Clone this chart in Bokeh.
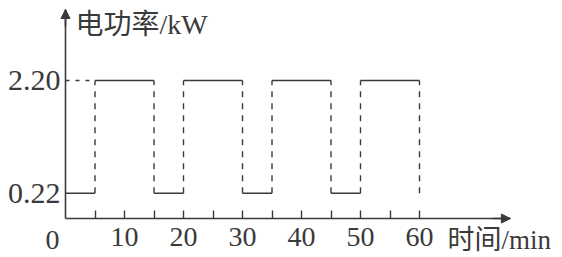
from bokeh.plotting import figure
from bokeh.models import (FixedTicker, PrintfTickFormatter, Range1d, Label, Arrow,
                          NormalHead, ColumnDataSource, LinearAxis)
from bokeh.embed import file_html
from bokeh.resources import INLINE

# ---- data ----
times = [0, 5, 15, 20, 30, 35, 45, 50, 60]          # minute marks where power switches
power = [0.22, 2.20, 0.22, 2.20, 0.22, 2.20, 0.22, 2.20]  # power level on each interval, kW
low, high = 0.22, 2.20
x_ticks_major = [10, 20, 30, 40, 50, 60]
x_ticks_minor = [5, 15, 25, 35, 45, 55]
y_ticks = [0.22, 2.20]
x_title = "时间/min"
y_title = "电功率/kW"

INK = "#3a3a3a"
LATIN = "Liberation Serif"
MIXED = "Liberation Serif, Noto Sans CJK SC"

# axis extents (data units)
x_axis_end = 75.4
y_axis_start, y_axis_end = -0.225, 3.449

p = figure(width=562, height=257, output_backend="svg", toolbar_location=None,
           x_range=Range1d(-11.017, 84.237), y_range=Range1d(-0.910, 3.607),
           x_axis_location=None, y_axis_location=None,
           min_border=0)
p.outline_line_color = None
p.grid.visible = False
p.background_fill_color = "white"
p.border_fill_color = "white"

# solid level segments
seg = ColumnDataSource(dict(x0=times[:-1], x1=times[1:], y=power))
p.segment(x0="x0", y0="y", x1="x1", y1="y", source=seg, line_color=INK, line_width=1.6)

# dashed vertical transitions
vsrc = ColumnDataSource(dict(x=times[1:], y0=[low] * (len(times) - 1),
                             y1=[high] * (len(times) - 1)))
p.segment(x0="x", y0="y0", x1="x", y1="y1", source=vsrc, line_color=INK,
          line_width=1.4, line_dash="6 6")
# dashed reference at 2.20 from the y axis
p.segment(x0=[times[0]], y0=[high], x1=[times[1]], y1=[high], line_color=INK,
          line_width=1.4, line_dash="4 6")

# axes, placed inside the canvas at fixed data locations
xa = LinearAxis(fixed_location=y_axis_start, bounds=(0, x_axis_end))
xa.ticker = FixedTicker(ticks=x_ticks_major, minor_ticks=x_ticks_minor)
xa.major_tick_in = 8
xa.major_tick_out = 0
xa.minor_tick_in = 8
xa.minor_tick_out = 0
xa.axis_line_width = 1.6
xa.axis_line_color = INK
xa.major_tick_line_color = INK
xa.minor_tick_line_color = INK
xa.major_tick_line_width = 1.4
xa.minor_tick_line_width = 1.4
xa.major_label_text_font = LATIN
xa.major_label_text_font_size = "28px"
xa.major_label_text_color = INK
xa.major_label_standoff = 9
p.add_layout(xa, "below")

ya = LinearAxis(fixed_location=0, bounds=(y_axis_start, y_axis_end))
ya.ticker = FixedTicker(ticks=y_ticks)
ya.formatter = PrintfTickFormatter(format="%.2f")
ya.major_tick_in = 0
ya.major_tick_out = 0
ya.minor_tick_in = 0
ya.minor_tick_out = 0
ya.axis_line_width = 1.6
ya.axis_line_color = INK
ya.major_label_text_font = LATIN
ya.major_label_text_font_size = "30px"
ya.major_label_text_color = INK
ya.major_label_standoff = 5
p.add_layout(ya, "left")

# arrow heads
p.add_layout(Arrow(end=NormalHead(size=9, fill_color=INK, line_color=INK),
                   x_start=0, y_start=y_axis_end - 0.3, x_end=0, y_end=y_axis_end,
                   line_color=INK, line_width=1.6))
p.add_layout(Arrow(end=NormalHead(size=9, fill_color=INK, line_color=INK),
                   x_start=x_axis_end - 3, y_start=y_axis_start, x_end=x_axis_end,
                   y_end=y_axis_start, line_color=INK, line_width=1.6))

# titles and origin label
p.add_layout(Label(x=1.7, y=3.185, text=y_title, text_font=MIXED,
                   text_font_size="28px", text_color=INK, text_baseline="alphabetic"))
p.add_layout(Label(x=64.75, y=-0.594, text=x_title, text_font=MIXED,
                   text_font_size="27px", text_color=INK, text_baseline="alphabetic"))
p.add_layout(Label(x=0, y=-0.594, x_offset=-13, text="0", text_font=LATIN,
                   text_font_size="28px", text_color=INK, text_align="center",
                   text_baseline="alphabetic"))

open("out.html", "w").write(file_html(p, INLINE))
